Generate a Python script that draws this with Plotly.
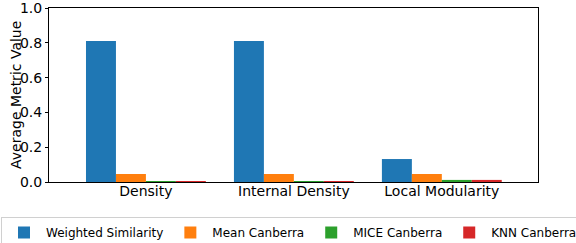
import plotly.graph_objects as go

categories = ["Density", "Internal Density", "Local Modularity"]
series_names = ["Weighted Similarity", "Mean Canberra", "MICE Canberra", "KNN Canberra"]
weighted_similarity = [0.81, 0.81, 0.132]
mean_canberra = [0.046, 0.046, 0.046]
mice_canberra = [0.003, 0.003, 0.012]
knn_canberra = [0.004, 0.004, 0.012]
y_ticks = [0.0, 0.2, 0.4, 0.6, 0.8, 1.0]
y_title = "Average Metric Value"

colors = ["#1f77b4", "#ff7f0e", "#2ca02c", "#d62728"]
values = [weighted_similarity, mean_canberra, mice_canberra, knn_canberra]

fig = go.Figure()
for name, vals, c in zip(series_names, values, colors):
    fig.add_trace(go.Bar(x=categories, y=vals, name=name, marker=dict(color=c, line=dict(width=0))))

font_family = "DejaVu Sans"
# figure is wider than the 576px window: the legend runs off the right edge like the reference
W, H = 660, 243
L, T, B = 49, 8, 61
R = W - 538
PW, PH = W - L - R, H - T - B
legend_right_px = 583
fig.update_layout(
    width=W, height=H,
    margin=dict(l=L, r=R, t=T, b=B, autoexpand=False),
    barmode="group", bargap=0.19, bargroupgap=0,
    plot_bgcolor="white", paper_bgcolor="white",
    font=dict(family=font_family, color="black", size=14),
    showlegend=True,
    legend=dict(
        orientation="h", xref="paper", yref="paper",
        x=(legend_right_px - L) / PW, xanchor="right",
        y=-(217 - (H - B)) / PH, yanchor="top",
        font=dict(size=12, family=font_family),
        bordercolor="#d0d0d0", borderwidth=1,
        traceorder="normal", itemwidth=34,
    ),
)
fig.add_annotation(
    text=y_title, textangle=-90, xref="paper", yref="paper",
    x=-(L - 16) / PW, y=0.5, xanchor="center", yanchor="middle",
    showarrow=False, font=dict(size=14),
)
fig.update_xaxes(
    type="category", range=[-0.655, 2.65], automargin=False,
    showline=True, linecolor="black", linewidth=1, mirror=True,
    ticks="", tickfont=dict(size=14), showgrid=False, ticklabelstandoff=-4,
)
fig.update_yaxes(
    range=[0, 1.0], tickvals=y_ticks, ticktext=[f"{v:.1f}" for v in y_ticks],
    automargin=False, ticklabeloverflow="allow",
    showline=True, linecolor="black", linewidth=1, mirror=True,
    ticks="outside", ticklen=3, tickcolor="black", tickfont=dict(size=14),
    showgrid=False, zeroline=False,
)
fig.write_html(
    "out.html",
    post_script="document.body.style.margin='0';document.body.style.overflow='hidden';"
                "document.documentElement.style.overflow='hidden';",
    config={"displayModeBar": False},
)
